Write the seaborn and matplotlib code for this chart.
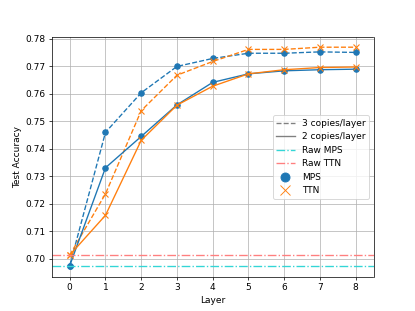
import matplotlib
matplotlib.use("Agg")
import matplotlib.pyplot as plt
from matplotlib.lines import Line2D
import seaborn as sns
import pandas as pd

# Données
layers = [0, 1, 2, 3, 4, 5, 6, 7, 8]
mps_3copies = [0.6975, 0.7460, 0.7604, 0.7700, 0.7729, 0.7748, 0.7748, 0.7753, 0.7751]
ttn_3copies = [0.7013, 0.7236, 0.7539, 0.7668, 0.7718, 0.7762, 0.7762, 0.7770, 0.7770]
mps_2copies = [0.6975, 0.7331, 0.7445, 0.7560, 0.7642, 0.7673, 0.7684, 0.7688, 0.7690]
ttn_2copies = [0.7013, 0.7158, 0.7431, 0.7559, 0.7628, 0.7673, 0.7688, 0.7696, 0.7698]
raw_mps = 0.6975
raw_ttn = 0.7013

df = pd.DataFrame({
    "Layer": layers,
    "mps3": mps_3copies,
    "ttn3": ttn_3copies,
    "mps2": mps_2copies,
    "ttn2": ttn_2copies,
})

blue = "#1f77b4"
orange = "#ff7f0e"
raw_mps_color = "#33d6d6"
raw_ttn_color = "#ff7f7f"

fig, ax = plt.subplots(figsize=(415 / 65, 311 / 65), dpi=65)

series = [
    ("mps3", blue, "--", "o"),
    ("ttn3", orange, "--", "x"),
    ("mps2", blue, "-", "o"),
    ("ttn2", orange, "-", "x"),
]
for col, color, ls, mk in series:
    sns.lineplot(data=df, x="Layer", y=col, ax=ax, color=color, linestyle=ls,
                 marker=mk, markersize=6, markeredgecolor=color,
                 markeredgewidth=1.2, linewidth=1.5)

ax.axhline(raw_mps, color=raw_mps_color, linestyle="-.", linewidth=1.5)
ax.axhline(raw_ttn, color=raw_ttn_color, linestyle="-.", linewidth=1.5)

ax.set_xlim(-0.5, 8.5)
ax.set_ylim(0.6934, 0.7806)
ax.set_xticks(layers)
ax.set_yticks([0.70, 0.71, 0.72, 0.73, 0.74, 0.75, 0.76, 0.77, 0.78])
ax.set_xlabel("Layer")
ax.set_ylabel("Test Accuracy")
ax.grid(True)

handles = [
    Line2D([], [], color="gray", linestyle="--", label="3 copies/layer"),
    Line2D([], [], color="gray", linestyle="-", label="2 copies/layer"),
    Line2D([], [], color=raw_mps_color, linestyle="-.", label="Raw MPS"),
    Line2D([], [], color=raw_ttn_color, linestyle="-.", label="Raw TTN"),
    Line2D([], [], color=blue, marker="o", linestyle="", markersize=10, label="MPS"),
    Line2D([], [], color=orange, marker="x", linestyle="", markersize=10, label="TTN"),
]
ax.legend(handles=handles, loc="center right")

fig.savefig("out.png", dpi=65)
